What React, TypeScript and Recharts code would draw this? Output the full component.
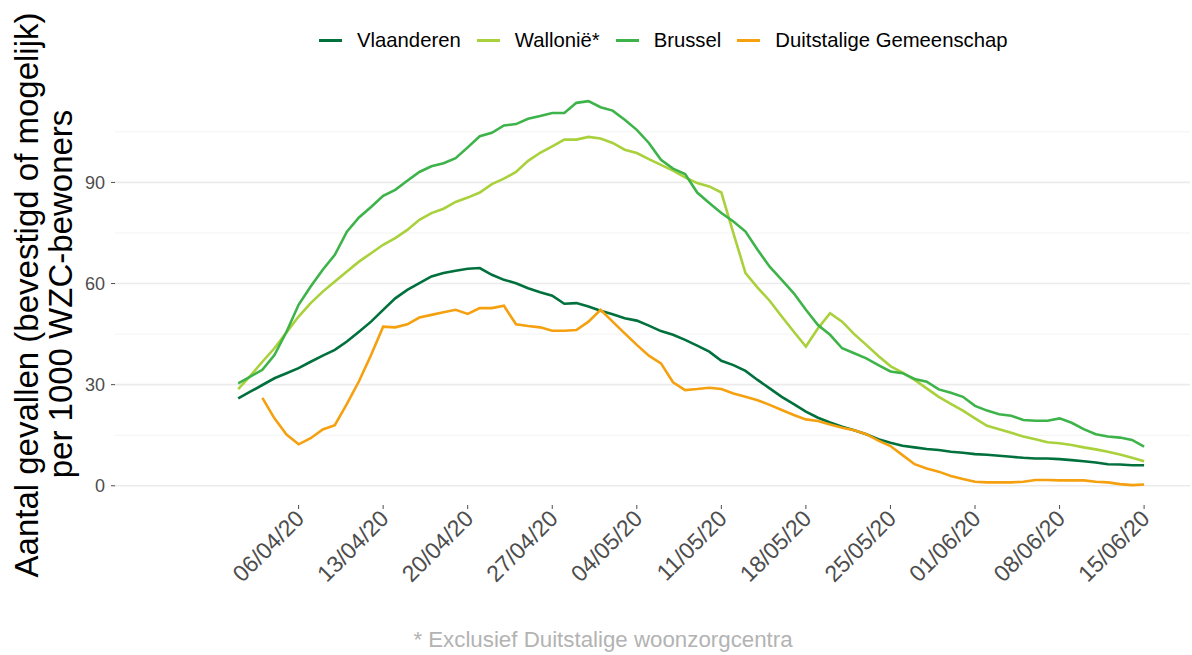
import { Label, Line, LineChart, ReferenceLine, XAxis, YAxis } from "recharts";

// dagelijkse waarden vanaf 01/04/20 (dag 0) t.e.m. 15/06/20 (dag 75)
const vlaanderen = [
  25.9, 27.9, 29.9, 31.9, 33.4, 34.9, 36.8, 38.6, 40.3, 42.8, 45.7, 48.7, 52.2,
  55.6, 58.1, 60.1, 62.1, 63.1, 63.8, 64.4, 64.6, 62.6, 61.1, 60.1, 58.6, 57.4,
  56.4, 54.0, 54.2, 53.2, 51.9, 50.9, 49.7, 49.0, 47.5, 45.9, 44.8, 43.3, 41.6,
  39.8, 37.1, 35.8, 34.1, 31.4, 28.9, 26.4, 24.2, 22.0, 20.2, 18.8, 17.5, 16.5,
  15.3, 13.8, 12.8, 11.9, 11.4, 10.9, 10.6, 10.1, 9.8, 9.4, 9.2, 8.9, 8.6,
  8.3, 8.1, 8.1, 7.9, 7.6, 7.3, 6.9, 6.4, 6.3, 6.1, 6.1,
];
const wallonie = [
  28.7, 32.6, 36.8, 40.8, 45.5, 50.2, 54.2, 57.6, 60.6, 63.6, 66.5, 69.0, 71.5,
  73.5, 75.9, 78.9, 80.9, 82.2, 84.2, 85.5, 87.0, 89.5, 91.1, 93.1, 96.4, 98.8,
  100.7, 102.7, 102.7, 103.5, 103.0, 101.7, 99.7, 98.7, 96.9, 95.2, 93.5, 91.5, 89.8,
  88.8, 87.0, 74.9, 63.1, 58.8, 54.9, 50.2, 45.7, 41.3, 46.7, 51.2, 48.7, 45.0,
  41.8, 38.5, 35.5, 33.6, 31.4, 28.9, 26.4, 24.3, 22.3, 20.0, 17.8, 16.8, 15.7,
  14.6, 13.8, 12.9, 12.6, 12.1, 11.4, 10.8, 10.1, 9.3, 8.3, 7.3,
];
const brussel = [
  30.4, 32.4, 34.4, 38.8, 45.7, 53.7, 59.1, 64.1, 68.5, 75.4, 79.6, 82.7, 86.0,
  87.8, 90.5, 93.1, 94.8, 95.7, 97.2, 100.4, 103.7, 104.7, 106.9, 107.3, 108.9, 109.7,
  110.6, 110.6, 113.6, 114.1, 112.3, 111.3, 108.6, 105.6, 101.7, 96.7, 94.1, 92.5, 87.0,
  83.9, 80.9, 78.4, 75.4, 70.0, 65.0, 61.1, 57.1, 52.2, 47.7, 44.8, 40.8, 39.3,
  37.8, 35.8, 33.9, 33.4, 31.7, 30.9, 28.6, 27.6, 26.4, 23.7, 22.3, 21.2, 20.8,
  19.5, 19.3, 19.3, 20.0, 18.7, 16.8, 15.3, 14.6, 14.3, 13.6, 11.6,
];
const duitstalig = [
  null, null, 26.1, 20.0, 15.2, 12.3, 14.1, 16.7, 18.0, 24.3, 31.0, 38.8, 47.2,
  47.0, 47.9, 49.9, 50.7, 51.5, 52.2, 51.0, 52.7, 52.7, 53.4, 47.9, 47.4, 47.0,
  46.0, 46.0, 46.2, 48.7, 52.2, 48.7, 45.2, 41.8, 38.6, 36.3, 30.7, 28.4, 28.7,
  29.1, 28.7, 27.4, 26.4, 25.4, 24.0, 22.5, 21.0, 19.7, 19.2, 18.2, 17.2, 16.5,
  15.3, 13.4, 11.8, 9.1, 6.4, 5.1, 4.2, 2.9, 2.0, 1.2, 1.0, 1.0, 1.0,
  1.2, 1.7, 1.7, 1.6, 1.6, 1.6, 1.2, 1.0, 0.5, 0.2, 0.4,
];

const tickDays = [5, 12, 19, 26, 33, 40, 47, 54, 61, 68, 75];
const tickLabels = ["06/04/20", "13/04/20", "20/04/20", "27/04/20", "04/05/20", "11/05/20", "18/05/20", "25/05/20", "01/06/20", "08/06/20", "15/06/20"];
const majorY = [0, 30, 60, 90];
const minorY = [15, 45, 75, 105];

const series = [
  { key: "vlaanderen", name: "Vlaanderen", color: "#00703C" },
  { key: "wallonie", name: "Wallonië*", color: "#A9D13B" },
  { key: "brussel", name: "Brussel", color: "#3DB34A" },
  { key: "duitstalig", name: "Duitstalige Gemeenschap", color: "#F5A00F" },
];

const data = vlaanderen.map((v, i) => ({
  day: i,
  vlaanderen: v,
  wallonie: wallonie[i],
  brussel: brussel[i],
  duitstalig: duitstalig[i],
}));

const FONT = "'Liberation Sans', Arial, sans-serif";

function XTick(props: any) {
  const { x, y, payload } = props;
  const label = tickLabels[tickDays.indexOf(payload.value)];
  return (
    <g transform={`translate(${x + 7},${y + 9})`}>
      <text transform="rotate(-45)" textAnchor="end" fill="#4d4d4d" fontSize={23} fontFamily={FONT}>
        {label}
      </text>
    </g>
  );
}

function YTitle() {
  return (
    <g fontFamily={FONT} fontSize={33} fill="#000" textAnchor="middle">
      <text transform="rotate(-90)" x={-295} y={38}>Aantal gevallen (bevestigd of mogelijk)</text>
      <text transform="rotate(-90)" x={-294} y={72}>per 1000 WZC-bewoners</text>
    </g>
  );
}

export default function App() {
  return (
    <div style={{ position: "absolute", left: 0, top: 0, width: 1192, height: 655, background: "#fff", fontFamily: FONT }}>
      <div style={{ position: "absolute", left: 319, top: 29, display: "flex", alignItems: "center", fontSize: 20.3, color: "#000" }}>
        {series.map((s) => (
          <div key={s.key} style={{ display: "flex", alignItems: "center", marginRight: 16 }}>
            <span style={{ display: "inline-block", width: 23, height: 3, background: s.color, marginRight: 15 }} />
            <span>{s.name}</span>
          </div>
        ))}
      </div>
      <LineChart width={1192} height={655} data={data} margin={{ top: 86, right: 2, left: 0, bottom: 0 }}>
        {minorY.map((v) => (
          <ReferenceLine key={"mi" + v} y={v} stroke="#f3f3f3" strokeWidth={1} />
        ))}
        {majorY.map((v) => (
          <ReferenceLine key={"ma" + v} y={v} stroke="#ebebeb" strokeWidth={1.6} />
        ))}
        <XAxis
          dataKey="day"
          type="number"
          domain={[-10.2, 78.8]}
          ticks={tickDays}
          allowDataOverflow
          axisLine={false}
          tickLine={{ stroke: "#4d4d4d" }}
          tickSize={4}
          height={150}
          tick={<XTick />}
          interval={0}
        />
        <YAxis
          type="number"
          domain={[-5.7, 118.6]}
          ticks={majorY}
          allowDataOverflow
          axisLine={false}
          tickLine={{ stroke: "#4d4d4d" }}
          tickSize={4}
          tickMargin={6}
          width={115}
          tick={{ fill: "#4d4d4d", fontSize: 18, fontFamily: FONT }}
        >
          <Label content={<YTitle />} />
        </YAxis>
        {series.map((s) => (
          <Line
            key={s.key}
            type="linear"
            dataKey={s.key}
            name={s.name}
            stroke={s.color}
            strokeWidth={2.6}
            dot={false}
            isAnimationActive={false}
          />
        ))}
      </LineChart>
      <div style={{ position: "absolute", left: 0, top: 627, width: 1206, textAlign: "center", fontSize: 22.3, color: "#b3b3b3" }}>
        * Exclusief Duitstalige woonzorgcentra
      </div>
    </div>
  );
}
